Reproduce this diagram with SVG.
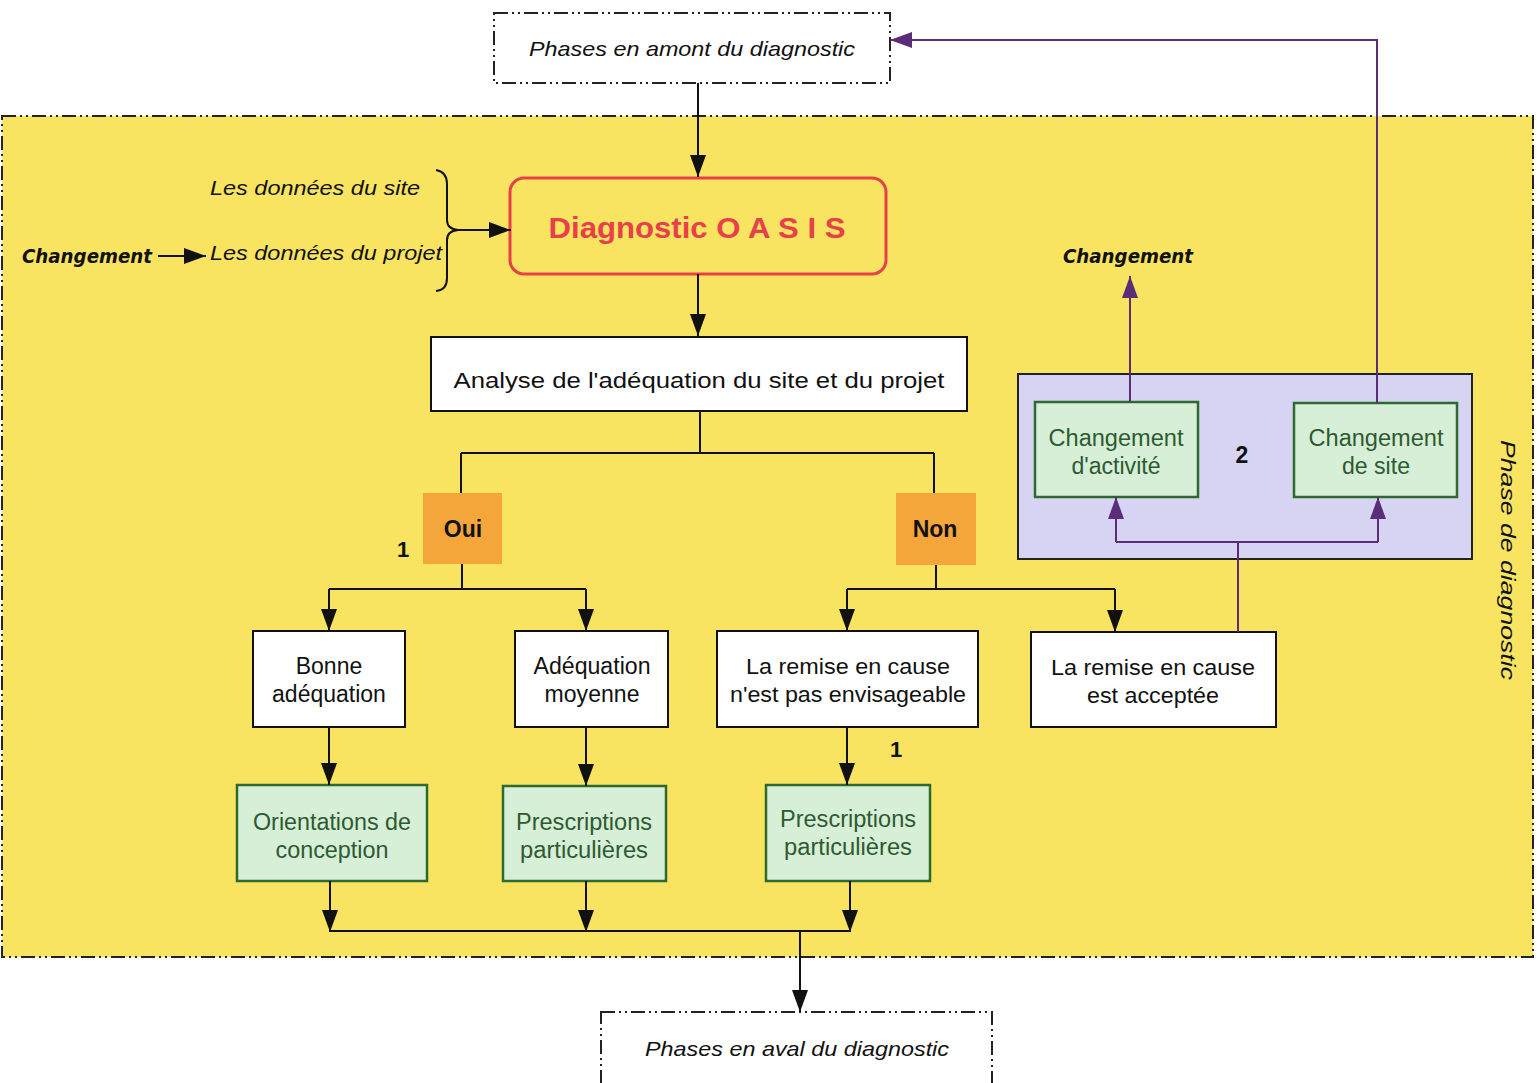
<svg xmlns="http://www.w3.org/2000/svg" width="1537" height="1083" viewBox="0 0 1537 1083">
<style>
.t{font-family:"Liberation Sans",Arial,sans-serif;fill:#111;}
.it{font-style:italic;}
.box{fill:#fff;stroke:#111;stroke-width:2;}
.gbox{fill:#d6efd6;stroke:#2c6a30;stroke-width:2.5;}
.gt{fill:#2e5a32;}
.orange{fill:#f4a63b;}
.dash{fill:none;stroke:#222;stroke-width:2;stroke-dasharray:14 4 2 4 2 4;}
.ln{fill:none;stroke:#111;stroke-width:2;}
.pl{fill:none;stroke:#5a2d78;stroke-width:2;}
.cg{font-family:"DejaVu Sans",sans-serif;font-style:italic;font-weight:bold;fill:#111;}
</style>
<defs>
<marker id="ab" viewBox="0 0 22 16" refX="22" refY="8" markerWidth="22" markerHeight="16" markerUnits="userSpaceOnUse" orient="auto"><path d="M0,0 L22,8 L0,16 z" fill="#111"/></marker>
<marker id="ap" viewBox="0 0 22 16" refX="22" refY="8" markerWidth="22" markerHeight="16" markerUnits="userSpaceOnUse" orient="auto"><path d="M0,0 L22,8 L0,16 z" fill="#5a2d78"/></marker>
</defs>
<rect width="1537" height="1083" fill="#fff"/>

<g id="phase-diagnostic">
<rect x="2" y="116" width="1531" height="841" fill="#f8e460"/>
<rect x="2" y="116" width="1531" height="841" class="dash"/>
<text class="t it" font-size="21" transform="translate(1501,560) rotate(90)" text-anchor="middle" textLength="240" lengthAdjust="spacingAndGlyphs">Phase de diagnostic</text>
</g>

<g id="amont">
<rect x="494" y="13" width="396" height="70" fill="#fff"/>
<rect x="494" y="13" width="396" height="70" class="dash"/>
<text class="t it" x="692" y="56" font-size="21" text-anchor="middle" textLength="326" lengthAdjust="spacingAndGlyphs">Phases en amont du diagnostic</text>
</g>

<g id="aval">
<rect x="601" y="1012" width="391" height="80" fill="#fff"/>
<rect x="601" y="1012" width="391" height="80" class="dash"/>
<text class="t it" x="797" y="1056" font-size="21" text-anchor="middle" textLength="304" lengthAdjust="spacingAndGlyphs">Phases en aval du diagnostic</text>
</g>

<g id="inputs">
<text class="t it" x="210" y="195" font-size="21" textLength="210" lengthAdjust="spacingAndGlyphs">Les données du site</text>
<text class="t it" x="210" y="260" font-size="21" textLength="232" lengthAdjust="spacingAndGlyphs">Les données du projet</text>
<text class="cg" x="22" y="263" font-size="19" textLength="130" lengthAdjust="spacingAndGlyphs">Changement</text>
<path d="M436,170 Q447,172 447,184 L447,220 Q447,229 458,230 Q447,231 447,240 L447,278 Q447,290 436,291" fill="none" stroke="#111" stroke-width="2"/>
</g>

<g id="oasis">
<rect x="510" y="178" width="376" height="96" rx="14" fill="#f8e460" stroke="#e8404a" stroke-width="3"/>
<text x="697" y="238" font-family="Liberation Sans,Arial,sans-serif" font-size="29" font-weight="bold" fill="#e8404a" text-anchor="middle" textLength="297" lengthAdjust="spacingAndGlyphs">Diagnostic O A S I S</text>
</g>

<g id="analyse">
<rect x="431" y="337" width="536" height="74" class="box"/>
<text class="t" x="699" y="388" font-size="22" text-anchor="middle" textLength="491" lengthAdjust="spacingAndGlyphs">Analyse de l'adéquation du site et du projet</text>
</g>

<g id="oui">
<rect x="423" y="493" width="79" height="71" class="orange"/>
<text class="t" x="463" y="537" font-size="23" font-weight="bold" text-anchor="middle">Oui</text>
<text class="t" x="403" y="557" font-size="22" font-weight="bold" text-anchor="middle">1</text>
</g>

<g id="non">
<rect x="896" y="493" width="80" height="72" class="orange"/>
<text class="t" x="935" y="537" font-size="23" font-weight="bold" text-anchor="middle">Non</text>
</g>

<g id="bonne">
<rect x="253" y="631" width="152" height="96" class="box"/>
<text class="t" x="329" y="674" font-size="23" text-anchor="middle">Bonne</text>
<text class="t" x="329" y="702" font-size="23" text-anchor="middle">adéquation</text>
</g>

<g id="moyenne">
<rect x="515" y="631" width="153" height="96" class="box"/>
<text class="t" x="592" y="674" font-size="23" text-anchor="middle" textLength="117" lengthAdjust="spacingAndGlyphs">Adéquation</text>
<text class="t" x="592" y="702" font-size="23" text-anchor="middle" textLength="95" lengthAdjust="spacing">moyenne</text>
</g>

<g id="non-envisageable">
<rect x="717" y="631" width="261" height="96" class="box"/>
<text class="t" x="848" y="674" font-size="22" text-anchor="middle" textLength="204" lengthAdjust="spacingAndGlyphs">La remise en cause</text>
<text class="t" x="848" y="702" font-size="22" text-anchor="middle" textLength="236" lengthAdjust="spacingAndGlyphs">n'est pas envisageable</text>
<text class="t" x="896" y="757" font-size="22" font-weight="bold" text-anchor="middle">1</text>
</g>

<g id="acceptee">
<rect x="1031" y="632" width="245" height="95" class="box"/>
<text class="t" x="1153" y="675" font-size="22" text-anchor="middle" textLength="204" lengthAdjust="spacingAndGlyphs">La remise en cause</text>
<text class="t" x="1153" y="703" font-size="22" text-anchor="middle" textLength="132" lengthAdjust="spacingAndGlyphs">est acceptée</text>
</g>

<g id="orientations">
<rect x="237" y="785" width="190" height="96" class="gbox"/>
<text class="t gt" x="332" y="830" font-size="23" text-anchor="middle" textLength="158" lengthAdjust="spacingAndGlyphs">Orientations de</text>
<text class="t gt" x="332" y="858" font-size="23" text-anchor="middle" textLength="113" lengthAdjust="spacingAndGlyphs">conception</text>
</g>

<g id="prescriptions1">
<rect x="503" y="786" width="163" height="95" class="gbox"/>
<text class="t gt" x="584" y="830" font-size="23" text-anchor="middle" textLength="136" lengthAdjust="spacingAndGlyphs">Prescriptions</text>
<text class="t gt" x="584" y="858" font-size="23" text-anchor="middle" textLength="128" lengthAdjust="spacingAndGlyphs">particulières</text>
</g>

<g id="prescriptions2">
<rect x="766" y="785" width="164" height="96" class="gbox"/>
<text class="t gt" x="848" y="827" font-size="23" text-anchor="middle" textLength="136" lengthAdjust="spacingAndGlyphs">Prescriptions</text>
<text class="t gt" x="848" y="855" font-size="23" text-anchor="middle" textLength="128" lengthAdjust="spacingAndGlyphs">particulières</text>
</g>

<g id="groupe-2">
<rect x="1018" y="374" width="454" height="185" fill="#d6d4f2" stroke="#222" stroke-width="2"/>
<text class="t" x="1242" y="463" font-size="23" font-weight="bold" text-anchor="middle">2</text>
</g>

<g id="chg-activite">
<rect x="1035" y="402" width="163" height="95" class="gbox"/>
<text class="t gt" x="1116" y="446" font-size="23" text-anchor="middle" textLength="135" lengthAdjust="spacingAndGlyphs">Changement</text>
<text class="t gt" x="1116" y="474" font-size="23" text-anchor="middle" textLength="89" lengthAdjust="spacingAndGlyphs">d'activité</text>
</g>

<g id="chg-site">
<rect x="1294" y="403" width="163" height="94" class="gbox"/>
<text class="t gt" x="1376" y="446" font-size="23" text-anchor="middle" textLength="135" lengthAdjust="spacingAndGlyphs">Changement</text>
<text class="t gt" x="1376" y="474" font-size="23" text-anchor="middle" textLength="68" lengthAdjust="spacingAndGlyphs">de site</text>
</g>

<g id="changement-out">
<text class="cg" x="1128" y="263" font-size="19" text-anchor="middle" textLength="130" lengthAdjust="spacingAndGlyphs">Changement</text>
</g>

<g id="connectors">
<line x1="698" y1="83" x2="698" y2="177" class="ln" marker-end="url(#ab)"/>
<line x1="458" y1="230" x2="511" y2="230" class="ln" marker-end="url(#ab)"/>
<line x1="158" y1="256" x2="206" y2="256" class="ln" marker-end="url(#ab)"/>
<line x1="698" y1="274" x2="698" y2="336" class="ln" marker-end="url(#ab)"/>
<path d="M700,411 V453 M461,453 H934 M461,453 V493 M934,453 V493" class="ln"/>
<path d="M462,564 V589 M329,589 H586" class="ln"/>
<line x1="329" y1="589" x2="329" y2="631" class="ln" marker-end="url(#ab)"/>
<line x1="586" y1="589" x2="586" y2="631" class="ln" marker-end="url(#ab)"/>
<path d="M936,565 V589 M847,589 H1115" class="ln"/>
<line x1="847" y1="589" x2="847" y2="631" class="ln" marker-end="url(#ab)"/>
<line x1="1115" y1="589" x2="1115" y2="632" class="ln" marker-end="url(#ab)"/>
<line x1="329" y1="727" x2="329" y2="785" class="ln" marker-end="url(#ab)"/>
<line x1="586" y1="727" x2="586" y2="786" class="ln" marker-end="url(#ab)"/>
<line x1="847" y1="727" x2="847" y2="785" class="ln" marker-end="url(#ab)"/>
<line x1="330" y1="881" x2="330" y2="932" class="ln" marker-end="url(#ab)"/>
<line x1="586" y1="881" x2="586" y2="932" class="ln" marker-end="url(#ab)"/>
<line x1="850" y1="881" x2="850" y2="932" class="ln" marker-end="url(#ab)"/>
<path d="M330,931 H850" class="ln"/>
<line x1="800" y1="931" x2="800" y2="1012" class="ln" marker-end="url(#ab)"/>
<path d="M1238,632 V542 M1116,542 H1378" class="pl"/>
<line x1="1116" y1="542" x2="1116" y2="497" class="pl" marker-end="url(#ap)"/>
<line x1="1378" y1="542" x2="1378" y2="497" class="pl" marker-end="url(#ap)"/>
<line x1="1130" y1="402" x2="1130" y2="276" class="pl" marker-end="url(#ap)"/>
<path d="M1377,403 V40 H900" class="pl"/>
<line x1="900" y1="40" x2="890" y2="40" class="pl" marker-end="url(#ap)"/>
</g>
</svg>
